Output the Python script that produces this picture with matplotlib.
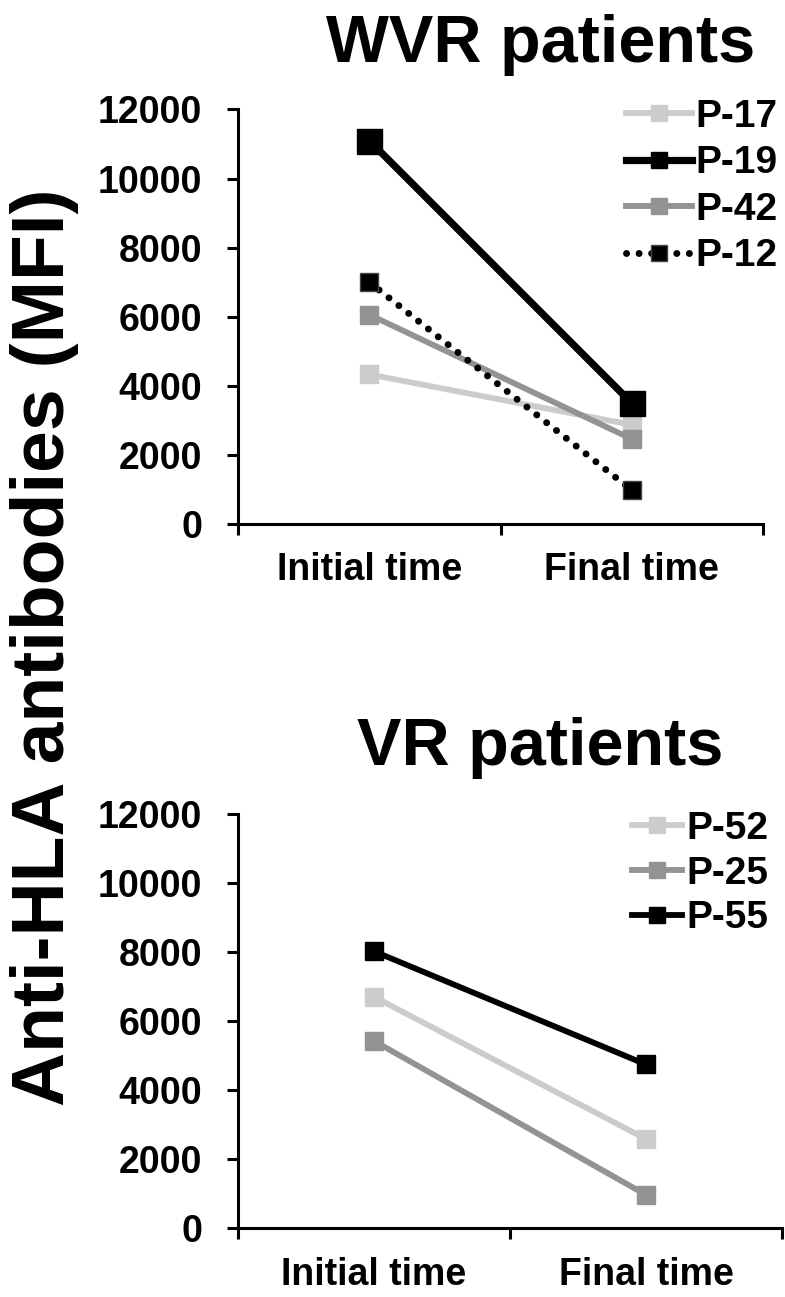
import matplotlib
matplotlib.use("Agg")
import matplotlib.pyplot as plt

plt.rcParams["font.family"] = ["Liberation Sans", "DejaVu Sans"]
plt.rcParams["font.weight"] = "bold"

times = ["Initial time", "Final time"]
x_pos = [0.5, 1.5]

# WVR patients (MFI at initial / final time)
wvr_names = ["P-17", "P-19", "P-42", "P-12"]
p17 = [4330, 2870]
p19 = [11100, 3500]
p42 = [6060, 2460]
p12 = [7000, 980]

# VR patients
vr_names = ["P-52", "P-25", "P-55"]
p52 = [6700, 2580]
p25 = [5420, 960]
p55 = [8020, 4740]

light = "#cccccc"
mid = "#939393"

fig = plt.figure(figsize=(7.85, 12.97), dpi=100)
ax1 = fig.add_axes([0.3032, 0.596, 0.6688, 0.3196])
ax2 = fig.add_axes([0.3032, 0.0532, 0.693, 0.3192])

ax1.plot(x_pos, p17, color=light, lw=4.2, marker="s", ms=13, label=wvr_names[0], clip_on=False)
ax1.plot(x_pos, p19, color="black", lw=5.2, marker="s", ms=18, label=wvr_names[1], clip_on=False)
ax1.plot(x_pos, p42, color=mid, lw=4.2, marker="s", ms=13, label=wvr_names[2], clip_on=False)
ax1.plot(x_pos, p12, color="black", lw=5.0, ls=(0, (0.01, 1.8)), dash_capstyle="round",
         marker="s", ms=13, mec="#444444", mew=1, label=wvr_names[3], clip_on=False)

ax2.plot(x_pos, p52, color=light, lw=4.2, marker="s", ms=13, label=vr_names[0], clip_on=False)
ax2.plot(x_pos, p25, color=mid, lw=4.2, marker="s", ms=13, label=vr_names[1], clip_on=False)
ax2.plot(x_pos, p55, color="black", lw=4.2, marker="s", ms=13, label=vr_names[2], clip_on=False)

for ax, xpad in ((ax1, 20), (ax2, 21)):
    ax.set_xlim(0, 2)
    ax.set_ylim(0, 12000)
    ax.set_yticks(range(0, 12001, 2000))
    ax.set_xticks([0, 1, 2], labels=["", "", ""])
    ax.set_xticks(x_pos, labels=times, minor=True)
    ax.spines["top"].set_visible(False)
    ax.spines["right"].set_visible(False)
    ax.spines["left"].set_linewidth(2.2)
    ax.spines["bottom"].set_linewidth(2.2)
    ax.tick_params(axis="y", which="major", length=8, width=2.2, pad=18, labelsize=27)
    ax.tick_params(axis="x", which="major", length=8, width=2.2)
    ax.tick_params(axis="x", which="minor", length=0, pad=xpad, labelsize=27)
    for lab in ax.get_yticklabels() + ax.get_xticklabels(minor=True):
        lab.set_fontweight("bold")

leg1 = ax1.legend(loc="upper left", bbox_to_anchor=(0.7975, 0.9237), bbox_transform=fig.transFigure,
                  frameon=False, fontsize=28, handlelength=1.7, handletextpad=0.08,
                  labelspacing=0.27, borderpad=0, borderaxespad=0)
leg2 = ax2.legend(loc="upper left", bbox_to_anchor=(0.805, 0.3747), bbox_transform=fig.transFigure,
                  frameon=False, fontsize=28, handlelength=1.3, handletextpad=0.1,
                  labelspacing=0.22, borderpad=0, borderaxespad=0)
for leg in (leg1, leg2):
    for h in leg.legend_handles:
        h.set_markersize(12)
    for t in leg.get_texts():
        t.set_fontweight("bold")

fig.text(541 / 785, 1 - 45 / 1297, "WVR patients", fontsize=48, fontweight="bold", ha="center", va="center")
fig.text(540 / 785, 1 - 748 / 1297, "VR patients", fontsize=48, fontweight="bold", ha="center", va="center")
fig.text(45 / 785, 1 - 647 / 1297, "Anti-HLA antibodies (MFI)", fontsize=54, fontweight="bold",
         rotation=90, ha="center", va="center")

fig.savefig("out.png", dpi=100)
